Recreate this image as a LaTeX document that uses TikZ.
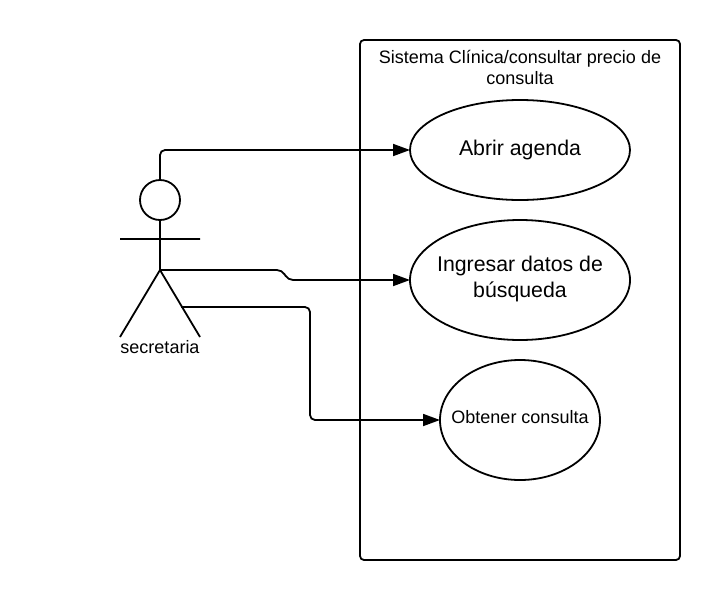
\documentclass[tikz,border=0pt]{standalone}
\usepackage{fontspec}
\setmainfont{Liberation Sans}
\usetikzlibrary{shapes.geometric,arrows.meta}
\tikzset{
  uc/.style={ellipse,draw,line width=1.8pt,inner sep=0pt,outer sep=0pt},
  big/.style={align=center,font=\fontsize{21.3}{26}\selectfont},
  small/.style={align=center,font=\fontsize{18}{21}\selectfont},
  link/.style={line width=1.8pt,rounded corners=5pt,-{Triangle[length=17pt,width=12pt]}},
  stick/.style={line width=1.8pt},
}
\begin{document}
\begin{tikzpicture}[x=1pt,y=-1pt]
\useasboundingbox (0,0) rectangle (720,600);
\node (sys) at (520,300) [draw,line width=1.8pt,rounded corners=4pt,outer sep=0pt,minimum width=320pt,minimum height=520pt] {};
\node (title) at (520,67) [small] {Sistema Clínica/consultar precio de\\consulta};
\node (abrir) at (520,150) [uc,minimum width=220pt,minimum height=100pt] {};
\node (abrirtxt) at (520,150) [big] {Abrir agenda};
\node (ingresar) at (520,280) [uc,minimum width=220pt,minimum height=120pt] {};
\node (ingresartxt) at (520,279) [big] {Ingresar datos de\\búsqueda};
\node (obtener) at (520,420) [uc,minimum width=160pt,minimum height=120pt] {};
\node (obtenertxt) at (520,417) [small] {Obtener consulta};
% actor
\node (head) at (160,200) [circle,draw,line width=1.8pt,outer sep=0pt,minimum size=40pt,inner sep=0pt] {};
\coordinate (hip) at (160,270);
\coordinate (armL) at (120,239);
\coordinate (armR) at (200,239);
\coordinate (footL) at (120,337);
\coordinate (footR) at (200,337);
\coordinate (legpt) at (181,307);
\node (actor) at (160,347) [small] {secretaria};
\draw[stick] (head)--(hip) (armL)--(armR) (hip)--(footL) (hip)--(footR);
% links
\draw[link] (head.north) -- (160,150) -- (abrir.west);
\draw[link] (hip) -- (282,270) -- (288,280) -- (ingresar.west);
\draw[link] (legpt) -- (310,307) -- (310,420) -- (obtener.west);
\end{tikzpicture}
\end{document}
